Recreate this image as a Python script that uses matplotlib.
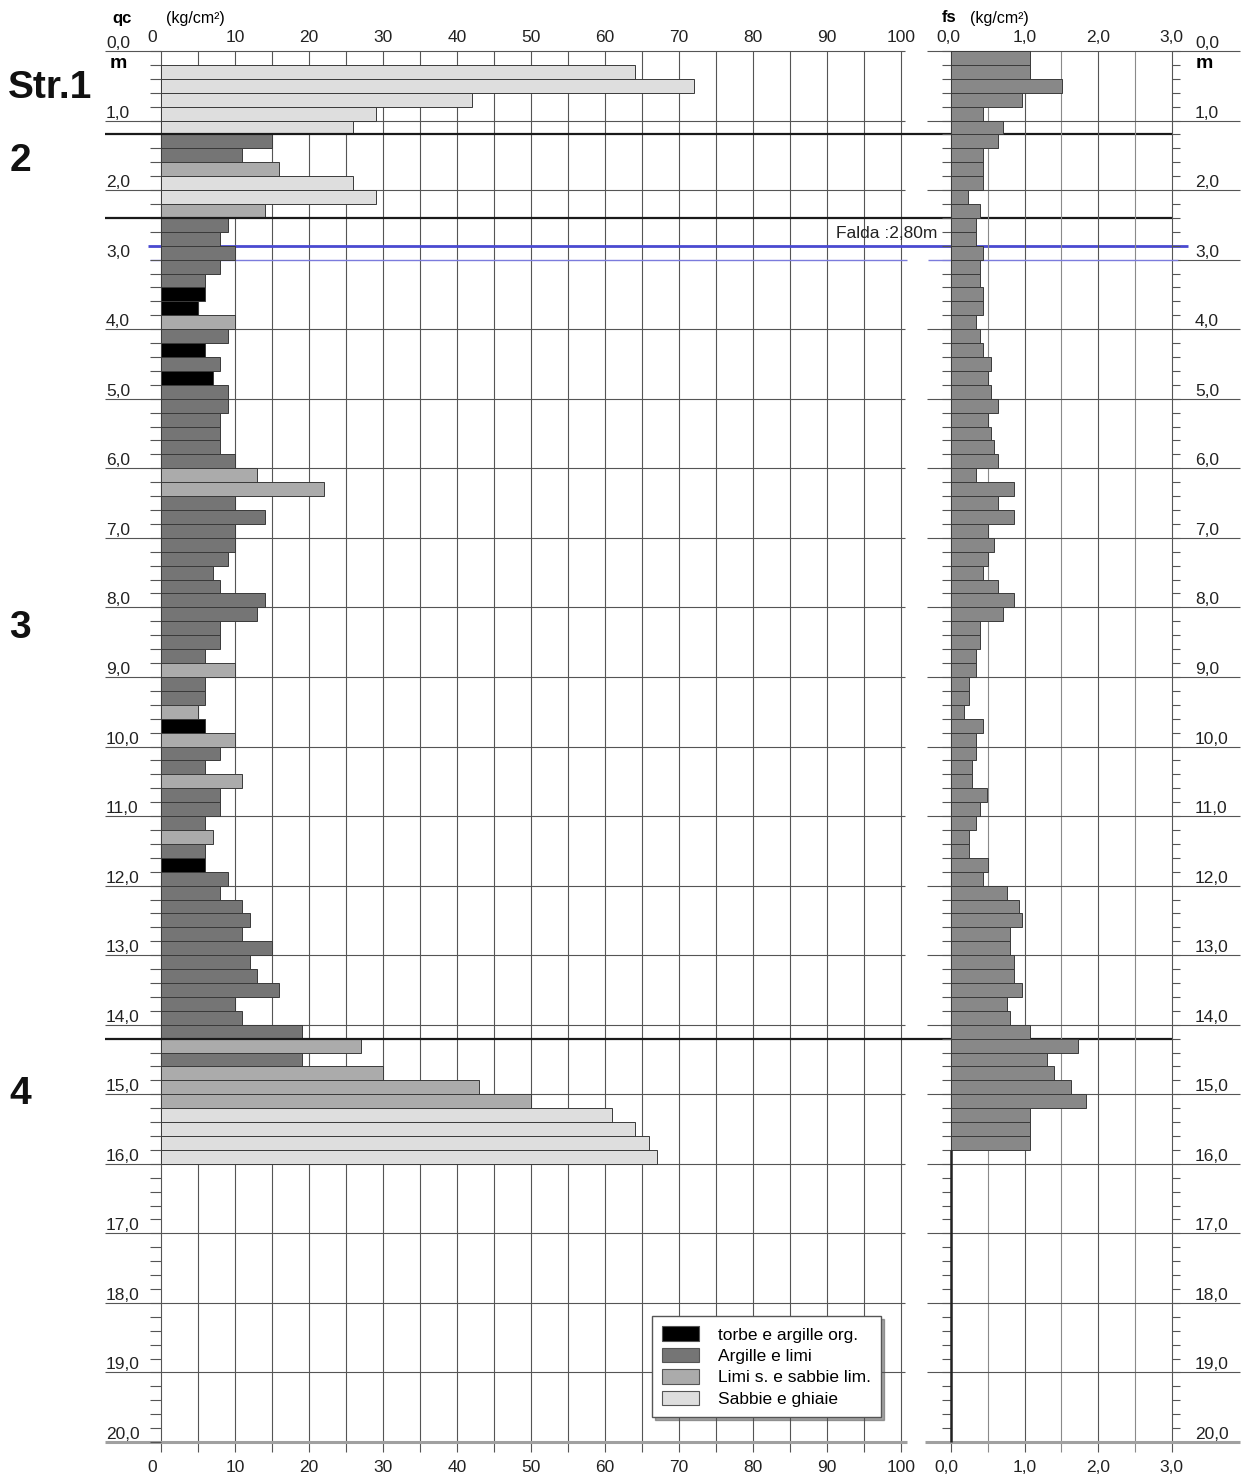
import matplotlib
matplotlib.use('Agg')
import matplotlib.pyplot as plt
from matplotlib.patches import Patch

plt.rcParams['font.family'] = ['Liberation Sans', 'DejaVu Sans']

# ---------------- data ----------------
# qc bars: top depth of each 0.2 m interval (m), value (kg/cm2), soil class
qc_top = [round(0.2 + 0.2 * i, 1) for i in range(79)]
qc_val = [64, 72, 42, 29, 26,
          15, 11, 16, 26, 29, 14,
          9, 8, 10, 8, 6, 6, 5, 10, 9, 6, 8, 7, 9, 9, 8, 8, 8, 10,
          13, 22, 10, 14, 10, 10, 9, 7, 8, 14, 13, 8, 8, 6, 10, 6, 6, 5, 6, 10,
          8, 6, 11, 8, 8, 6, 7, 6, 6, 9, 8, 11, 12, 11, 15, 12, 13, 16, 10, 11, 19,
          27, 19, 30, 43, 50, 61, 64, 66, 67]
qc_cls = ['S', 'S', 'S', 'S', 'S',
          'A', 'A', 'L', 'S', 'S', 'L',
          'A', 'A', 'A', 'A', 'A', 'T', 'T', 'L', 'A', 'T', 'A', 'T', 'A', 'A', 'A', 'A', 'A', 'A',
          'L', 'L', 'A', 'A', 'A', 'A', 'A', 'A', 'A', 'A', 'A', 'A', 'A', 'A', 'L', 'A', 'A', 'L', 'T', 'L',
          'A', 'A', 'L', 'A', 'A', 'A', 'L', 'A', 'T', 'A', 'A', 'A', 'A', 'A', 'A', 'A', 'A', 'A', 'A', 'A', 'A',
          'L', 'A', 'L', 'L', 'L', 'S', 'S', 'S', 'S']

# fs bars: top depth of each 0.2 m interval (m), value (kg/cm2)
fs_top = [round(0.2 * i, 1) for i in range(79)]
fs_val = [1.07, 1.07, 1.51, 0.97, 0.43, 0.71, 0.64, 0.43, 0.43, 0.43, 0.23, 0.39,
          0.34, 0.34, 0.44, 0.39, 0.39, 0.44, 0.44, 0.34, 0.39, 0.44, 0.55, 0.51,
          0.55, 0.64, 0.51, 0.55, 0.58, 0.64, 0.34, 0.86, 0.64, 0.86, 0.51, 0.58,
          0.51, 0.44, 0.64, 0.86, 0.71, 0.39, 0.39, 0.34, 0.34, 0.24, 0.24, 0.18,
          0.44, 0.34, 0.34, 0.28, 0.28, 0.49, 0.39, 0.34, 0.24, 0.24, 0.51, 0.44,
          0.76, 0.92, 0.97, 0.80, 0.80, 0.86, 0.86, 0.97, 0.76, 0.80, 1.07, 1.73,
          1.30, 1.40, 1.63, 1.84, 1.07, 1.07, 1.07]

class_names = {'T': 'torbe e argille org.', 'A': 'Argille e limi',
               'L': 'Limi s. e sabbie lim.', 'S': 'Sabbie e ghiaie'}
class_order = ['T', 'A', 'L', 'S']

layer_bounds = [1.2, 2.4, 14.2]
strata = ['Str.1', '2', '3', '4']
strata_depth = [0.53, 1.58, 8.3, 15.0]
water_depth = 2.80

qc_ticks = list(range(0, 101, 10))
fs_ticks = [0.0, 1.0, 2.0, 3.0]
depth_ticks = list(range(0, 21))

# ---------------- styling ----------------
colors = {'T': '#000000', 'A': '#757575', 'L': '#ababab', 'S': '#dedede'}
FS_COLOR = '#888888'
GRID = '#555555'

W, H = 1254, 1479
fig = plt.figure(figsize=(W / 100, H / 100), dpi=100)

Y0, Y20 = 51, 1442
QX0, QX100 = 161, 901
FX0, FX3 = 951, 1171.5
QPU = (QX100 - QX0) / 100.0
FPU = (FX3 - FX0) / 3.0
MPU = (Y20 - Y0) / 20.0


def rect(x0, x1):
    return [x0 / W, 1 - Y20 / H, (x1 - x0) / W, (Y20 - Y0) / H]


ax1 = fig.add_axes(rect(QX0, QX100))
ax2 = fig.add_axes(rect(FX0, FX3))
for ax, xm in ((ax1, 100), (ax2, 3.0)):
    ax.set_xlim(0, xm)
    ax.set_ylim(20, 0)
    ax.axis('off')


def qx(px):
    return (px - QX0) / QPU


def fx(px):
    return (px - FX0) / FPU


def dy(px):
    return (px - Y0) / MPU


kw = dict(clip_on=False, solid_capstyle='butt')
LBL_OFF = 7.5 / MPU

# ---- qc grid ----
for v in range(0, 101, 5):
    ax1.plot([v, v], [0, 20 + 10 / MPU], color=GRID, lw=0.8, zorder=1, **kw)
for d in depth_ticks:
    if d == 3:
        ax1.plot([qx(150), qx(907)], [d, d], color='#7b7bdc', lw=1.0, zorder=1, **kw)
    elif d == 20:
        ax1.plot([qx(105), qx(907)], [d, d], color='#a0a0a0', lw=2.2, zorder=1, **kw)
    else:
        ax1.plot([qx(105), qx(905)], [d, d], color=GRID, lw=0.8, zorder=1, **kw)
    ax1.text(qx(106), d - LBL_OFF, f"{d},0", ha='left', va='center', fontsize=12.5, color='#222')
    ax2.text(fx(1195), d - LBL_OFF, f"{d},0", ha='left', va='center', fontsize=12.5, color='#222')
for i in range(101):
    d = i * 0.2
    ax1.plot([qx(150), 0], [d, d], color=GRID, lw=0.8, zorder=1, **kw)
    ax2.plot([fx(942), 0], [d, d], color=GRID, lw=0.8, zorder=1, **kw)
    ax2.plot([3.0, fx(1180)], [d, d], color=GRID, lw=0.8, zorder=1, **kw)

# ---- fs grid ----
for i in range(7):
    v = i * 0.5
    c = GRID if i % 2 == 0 else '#8a8a8a'
    ax2.plot([v, v], [0, 20 + 10 / MPU], color=c, lw=0.8, zorder=1, **kw)
for d in depth_ticks:
    if d == 3:
        ax2.plot([fx(928), fx(1178)], [d, d], color='#7b7bdc', lw=1.0, zorder=1, **kw)
        ax2.plot([fx(1178), fx(1240)], [d, d], color=GRID, lw=0.8, zorder=1, **kw)
    elif d == 20:
        ax2.plot([fx(925), fx(1240)], [d, d], color='#a0a0a0', lw=2.2, zorder=1, **kw)
    else:
        ax2.plot([fx(927), fx(1240)], [d, d], color=GRID, lw=0.8, zorder=1, **kw)

# ---- water table ----
ax1.plot([qx(148), qx(1188)], [water_depth, water_depth], color='#4a4ad0', lw=2.0, zorder=1.5, **kw)
ax1.text(qx(937), dy(233), 'Falda :2,80m', ha='right', va='center', fontsize=12.5, color='#222', zorder=5)

# ---- bars ----
ax1.barh([t + 0.1 for t in qc_top], qc_val, height=0.2,
         color=[colors[c] for c in qc_cls], edgecolor='#3a3a3a', linewidth=0.7, zorder=2)
ax2.barh([t + 0.1 for t in fs_top], fs_val, height=0.2,
         color=FS_COLOR, edgecolor='#3a3a3a', linewidth=0.7, zorder=2)
ax2.plot([0, 0], [fs_top[-1] + 0.2, 20], color='#222', lw=1.8, zorder=3, **kw)

# ---- layer boundaries ----
for b in layer_bounds:
    ax1.plot([qx(105), qx(1172)], [b, b], color='#1a1a1a', lw=1.6, zorder=4, **kw)

# ---- axis labels ----
for v in qc_ticks:
    xx = -1.2 if v == 0 else v
    ax1.text(xx, dy(37), str(v), ha='center', va='center', fontsize=12.5, color='#222')
    ax1.text(xx, dy(1467), str(v), ha='center', va='center', fontsize=12.5, color='#222')
for v in fs_ticks:
    s = f"{v:.1f}".replace('.', ',')
    ax2.text(v - (0.03 if v == 0 else 0), dy(37), s, ha='center', va='center', fontsize=12.5, color='#222')
    ax2.text(v - (0.06 if v == 0 else 0), dy(1467), s, ha='center', va='center', fontsize=12.5, color='#222')

fig.text(112 / W, 1 - 18 / H, 'qc', ha='left', va='center', fontsize=12, fontweight='bold')
fig.text(166 / W, 1 - 18 / H, '(kg/cm²)', ha='left', va='center', fontsize=11.5)
fig.text(942 / W, 1 - 18 / H, 'fs', ha='left', va='center', fontsize=12, fontweight='bold')
fig.text(970 / W, 1 - 18 / H, '(kg/cm²)', ha='left', va='center', fontsize=11.5)
fig.text(110 / W, 1 - 64 / H, 'm', ha='left', va='center', fontsize=14, fontweight='bold')
fig.text(1196 / W, 1 - 64 / H, 'm', ha='left', va='center', fontsize=14, fontweight='bold')

for s, d in zip(strata, strata_depth):
    x = 50 if s.startswith('Str') else 20
    fig.text(x / W, 1 - (Y0 + d * MPU) / H, s, ha='center', va='center',
             fontsize=28, fontweight='bold', color='#111')

# ---- legend ----
handles = [Patch(facecolor=colors[c], edgecolor='#555', linewidth=0.8, label=class_names[c])
           for c in class_order]
leg = fig.legend(handles=handles, loc='upper left', bbox_to_anchor=(652 / W, 1 - 1316 / H),
                 frameon=True, fancybox=False, shadow=True, fontsize=12.5,
                 handlelength=2.1, handleheight=0.9, labelspacing=0.3,
                 borderpad=0.6, handletextpad=1.1, borderaxespad=0)
leg.get_frame().set_edgecolor('#555')
leg.get_frame().set_linewidth(1.0)

fig.savefig('out.png', dpi=100)
